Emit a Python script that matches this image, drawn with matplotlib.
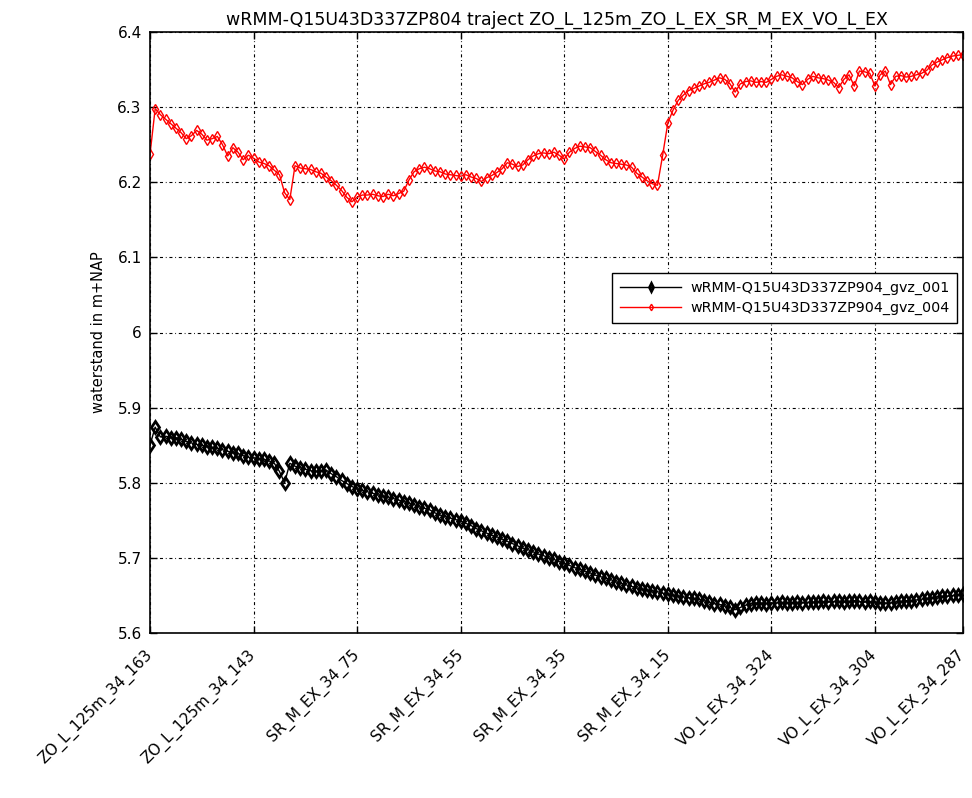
import matplotlib
matplotlib.use('Agg')
import matplotlib.pyplot as plt

plt.rcParams['font.family'] = ['DejaVu Sans']
plt.rcParams['lines.scale_dashes'] = False

# waterstanden langs het traject (m+NAP), één waarde per locatie
gvz_001 = [
    5.850, 5.874, 5.861, 5.862, 5.860, 5.860, 5.858, 5.855, 5.853, 5.851,
    5.850, 5.848, 5.847, 5.846, 5.844, 5.842, 5.840, 5.839, 5.836, 5.834,
    5.833, 5.832, 5.831, 5.829, 5.826, 5.815, 5.800, 5.826, 5.822, 5.820,
    5.818, 5.816, 5.815, 5.816, 5.817, 5.812, 5.808, 5.803, 5.799, 5.795,
    5.792, 5.790, 5.788, 5.786, 5.784, 5.782, 5.781, 5.779, 5.777, 5.775,
    5.773, 5.771, 5.768, 5.766, 5.764, 5.760, 5.757, 5.755, 5.753, 5.751,
    5.749, 5.746, 5.743, 5.739, 5.736, 5.733, 5.730, 5.728, 5.725, 5.722,
    5.719, 5.716, 5.713, 5.711, 5.708, 5.705, 5.703, 5.700, 5.698, 5.695,
    5.693, 5.690, 5.687, 5.685, 5.682, 5.680, 5.677, 5.675, 5.673, 5.671,
    5.668, 5.666, 5.664, 5.662, 5.660, 5.658, 5.657, 5.656, 5.655, 5.653,
    5.652, 5.650, 5.649, 5.648, 5.647, 5.646, 5.645, 5.643, 5.641, 5.639,
    5.638, 5.636, 5.634, 5.631, 5.634, 5.637, 5.639, 5.640, 5.640, 5.639,
    5.640, 5.640, 5.641, 5.640, 5.640, 5.641, 5.640, 5.641, 5.641, 5.641,
    5.642, 5.641, 5.642, 5.642, 5.641, 5.642, 5.643, 5.642, 5.641, 5.642,
    5.641, 5.640, 5.640, 5.640, 5.641, 5.642, 5.643, 5.643, 5.644, 5.645,
    5.646, 5.647, 5.648, 5.649, 5.649, 5.650, 5.651, 5.652,
]
gvz_004 = [
    6.237, 6.298, 6.290, 6.284, 6.278, 6.272, 6.266, 6.258, 6.262, 6.269,
    6.264, 6.256, 6.258, 6.261, 6.250, 6.235, 6.246, 6.240, 6.230, 6.236,
    6.232, 6.227, 6.225, 6.222, 6.216, 6.210, 6.186, 6.177, 6.222, 6.219,
    6.218, 6.217, 6.214, 6.212, 6.207, 6.202, 6.196, 6.189, 6.180, 6.174,
    6.180, 6.183, 6.183, 6.184, 6.182, 6.181, 6.184, 6.182, 6.185, 6.188,
    6.203, 6.214, 6.218, 6.220, 6.218, 6.215, 6.214, 6.211, 6.210, 6.209,
    6.208, 6.210, 6.207, 6.205, 6.201, 6.206, 6.209, 6.213, 6.218, 6.226,
    6.224, 6.221, 6.223, 6.230, 6.235, 6.238, 6.239, 6.238, 6.240, 6.236,
    6.231, 6.240, 6.245, 6.248, 6.247, 6.246, 6.241, 6.236, 6.230, 6.226,
    6.225, 6.224, 6.223, 6.220, 6.212, 6.207, 6.202, 6.198, 6.196, 6.236,
    6.279, 6.296, 6.309, 6.316, 6.322, 6.325, 6.328, 6.331, 6.333, 6.336,
    6.339, 6.337, 6.331, 6.320, 6.331, 6.334, 6.335, 6.333, 6.334, 6.333,
    6.337, 6.341, 6.343, 6.341, 6.339, 6.334, 6.330, 6.337, 6.341, 6.339,
    6.338, 6.336, 6.333, 6.326, 6.337, 6.343, 6.328, 6.348, 6.347, 6.345,
    6.328, 6.343, 6.348, 6.330, 6.341, 6.342, 6.340, 6.341, 6.343, 6.345,
    6.349, 6.356, 6.360, 6.363, 6.366, 6.368, 6.369, 6.370,
]

# locaties op de x-as (index in de reeks) met hun naam
tick_pos = [0, 20, 40, 60, 80, 100, 120, 140, 157]
tick_names = [
    'ZO_L_125m_34_163', 'ZO_L_125m_34_143', 'SR_M_EX_34_75', 'SR_M_EX_34_55',
    'SR_M_EX_34_35', 'SR_M_EX_34_15', 'VO_L_EX_34_324', 'VO_L_EX_34_304',
    'VO_L_EX_34_287',
]
y_ticks = [5.6, 5.7, 5.8, 5.9, 6.0, 6.1, 6.2, 6.3, 6.4]
y_tick_labels = ['5.6', '5.7', '5.8', '5.9', '6', '6.1', '6.2', '6.3', '6.4']

x = list(range(len(gvz_001)))

fig = plt.figure(figsize=(9.72, 7.98), dpi=100)
ax = fig.add_axes([150 / 972, 1 - 633 / 798, (963 - 150) / 972, (633 - 32) / 798])

ax.plot(x, gvz_001, color='black', linewidth=1, marker='d', markersize=6.5,
        markerfacecolor='none', markeredgewidth=2,
        label='wRMM-Q15U43D337ZP904_gvz_001')
ax.plot(x, gvz_004, color='red', linewidth=1, marker='d', markersize=5.5,
        markerfacecolor='none', markeredgewidth=1,
        label='wRMM-Q15U43D337ZP904_gvz_004')

ax.set_xlim(0, 157)
ax.set_ylim(5.6, 6.4)
ax.set_xticks(tick_pos)
ax.set_xticklabels(tick_names, rotation=45, ha='right', va='center',
                   rotation_mode='anchor', fontsize=11)
ax.set_yticks(y_ticks)
ax.set_yticklabels(y_tick_labels, fontsize=11)
ax.tick_params(axis='y', direction='in', right=True, length=5, width=1, pad=6)
ax.tick_params(axis='x', direction='in', top=True, length=5, width=1, pad=14)
ax.grid(True, color='black', linewidth=0.8, linestyle=(0, (2.2, 2.0, 0.6, 2.0)))

for s in ax.spines.values():
    s.set_linewidth(1.2)

ax.set_ylabel('waterstand in m+NAP', fontsize=10.5, labelpad=8)
ax.set_title('wRMM-Q15U43D337ZP804 traject ZO_L_125m_ZO_L_EX_SR_M_EX_VO_L_EX',
             fontsize=12.5, pad=5)

leg = ax.legend(loc='upper left', bbox_to_anchor=(612 / 972, 1 - 273 / 798),
                bbox_transform=fig.transFigure, fancybox=False, framealpha=1,
                edgecolor='black', fontsize=10.3, handlelength=4.3,
                handletextpad=0.6, borderpad=0.55, labelspacing=0.4,
                borderaxespad=0, markerscale=0.6)
leg.get_frame().set_linewidth(1)

fig.savefig('out.png', dpi=100)
